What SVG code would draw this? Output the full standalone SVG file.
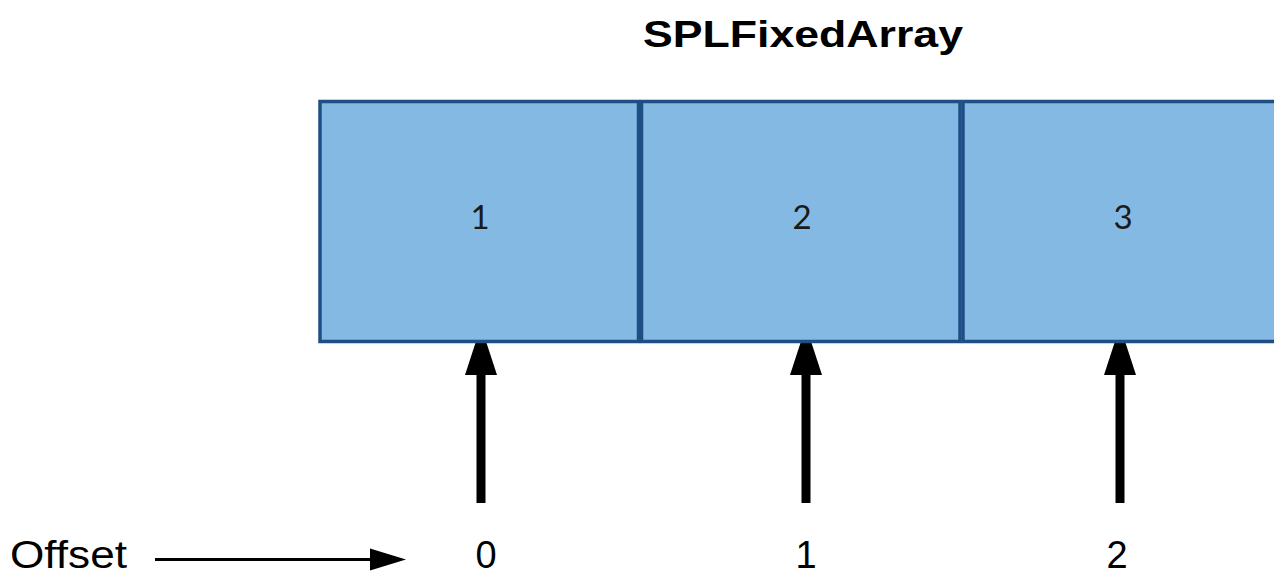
<svg xmlns="http://www.w3.org/2000/svg" width="1274" height="573" viewBox="0 0 1274 573">
<style>
.cell{fill:#84b9e3;stroke:#1f4e85;stroke-width:3.5}
.lbl{font-family:Lato,"Liberation Sans",sans-serif;font-size:33px;fill:#1a1a1a;text-anchor:middle}
.num{font-family:"Liberation Sans",Arial,sans-serif;font-size:38px;fill:#000;text-anchor:middle}
.title{font-family:"Liberation Sans",Arial,sans-serif;font-size:37px;font-weight:bold;fill:#000}
.shaft{stroke:#000;stroke-width:9;fill:none}
.head{fill:#000}
</style>
<rect width="1274" height="573" fill="#ffffff"/>
<g id="connectors">
  <g id="arrow0">
    <line class="shaft" x1="481" y1="503" x2="481" y2="370"/>
    <polygon class="head" points="481,326 497,375 465,375"/>
  </g>
  <g id="arrow1">
    <line class="shaft" x1="806" y1="503" x2="806" y2="370"/>
    <polygon class="head" points="806,326 822,375 790,375"/>
  </g>
  <g id="arrow2">
    <line class="shaft" x1="1120" y1="503" x2="1120" y2="370"/>
    <polygon class="head" points="1120,326 1136,375 1104,375"/>
  </g>
  <g id="offset-arrow">
    <line x1="155" y1="559.5" x2="372" y2="559.5" stroke="#000" stroke-width="3"/>
    <polygon class="head" points="370,548.5 406,559.5 370,570.5"/>
  </g>
</g>
<g id="title">
  <text class="title" x="643" y="47" textLength="320" lengthAdjust="spacingAndGlyphs">SPLFixedArray</text>
</g>
<g id="cell1">
  <rect class="cell" x="320" y="101.5" width="318.5" height="240"/>
  <text class="lbl" x="480" y="229">1</text>
</g>
<g id="cell2">
  <rect class="cell" x="641.5" y="101.5" width="318.5" height="240"/>
  <text class="lbl" x="802" y="229">2</text>
</g>
<g id="cell3">
  <rect class="cell" x="963" y="101.5" width="340" height="240"/>
  <text class="lbl" x="1123" y="229">3</text>
</g>
<g id="offset-label">
  <text class="num" x="10" y="568" style="text-anchor:start" textLength="117" lengthAdjust="spacingAndGlyphs">Offset</text>
</g>
<g id="offset0"><text class="num" x="486" y="568">0</text></g>
<g id="offset1"><text class="num" x="806" y="568">1</text></g>
<g id="offset2"><text class="num" x="1117" y="568">2</text></g>
</svg>
